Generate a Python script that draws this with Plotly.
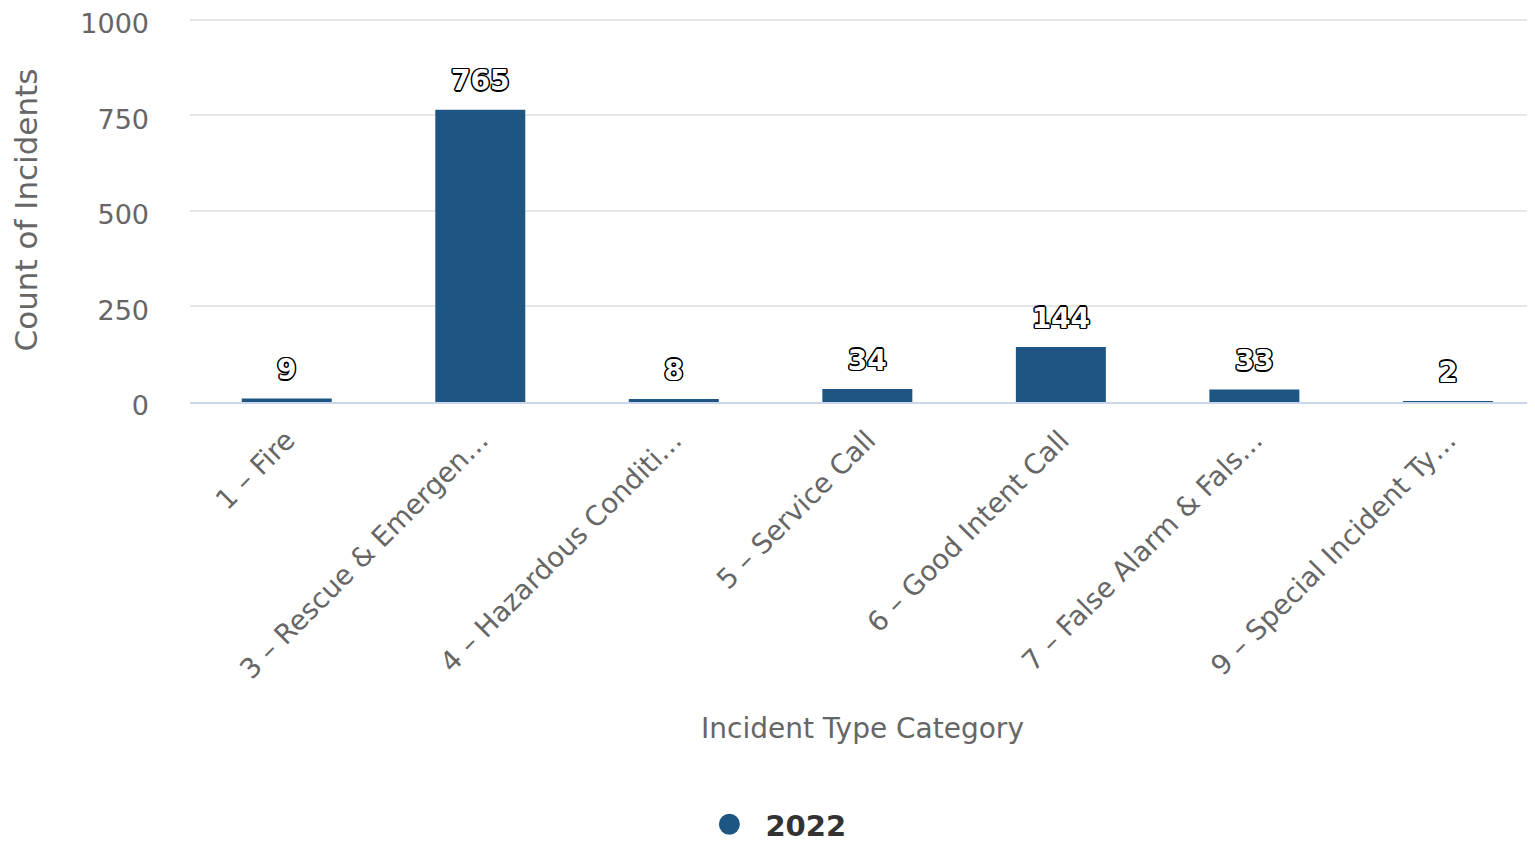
import plotly.graph_objects as go

categories = [
    "1 – Fire",
    "3 – Rescue & Emergen…",
    "4 – Hazardous Conditi…",
    "5 – Service Call",
    "6 – Good Intent Call",
    "7 – False Alarm & Fals…",
    "9 – Special Incident Ty…",
]
counts_2022 = [9, 765, 8, 34, 144, 33, 2]
series_name = "2022"
y_ticks = [0, 250, 500, 750, 1000]

BAR = "#1f5582"
GRAY = "#666666"
FONT = "DejaVu Sans"

outline = ", ".join(f"{dx}px {dy}px 0 #000" for dx, dy in
                    [(-1, -1), (1, -1), (-1, 1), (1, 1), (0, 1.5), (0, -1.5), (1.5, 0), (-1.5, 0)])

fig = go.Figure()
fig.add_trace(go.Bar(
    x=categories, y=counts_2022, name=series_name,
    marker=dict(color=BAR, line=dict(width=0)),
    width=0.465,
    showlegend=False, hoverinfo="x+y",
))
# data labels
fig.add_trace(go.Scatter(
    x=categories, y=counts_2022, mode="markers+text",
    text=[str(v) for v in counts_2022], textposition="top center",
    marker=dict(size=18, opacity=0),
    textfont=dict(family=FONT, size=28, color="#ffffff", weight="bold", shadow=outline),
    cliponaxis=False, showlegend=False, hoverinfo="skip",
))
# legend entry
fig.add_trace(go.Scatter(
    x=[None], y=[None], name=series_name, mode="markers",
    marker=dict(symbol="circle", color=BAR, size=30, line=dict(color=BAR, width=8)),
    showlegend=True,
))

fig.update_layout(
    width=1527, height=835,
    margin=dict(l=182, r=0, t=10, b=441, autoexpand=False),
    paper_bgcolor="white", plot_bgcolor="white",
    font=dict(family=FONT, color=GRAY),
    legend=dict(orientation="h", x=0.433, xanchor="center", y=-1.1, yanchor="middle",
                font=dict(size=29, color="#333333", weight="bold", family=FONT),
                itemsizing="trace", itemwidth=62, bgcolor="rgba(0,0,0,0)"),
)
fig.update_xaxes(
    range=[-0.5, 6.45], tickangle=-45, tickfont=dict(size=27.5, color=GRAY, family=FONT),
    showline=True, linecolor="#ccd6eb", linewidth=2, showgrid=False, ticks="",
    ticklabelstandoff=9, automargin=False,
    title=dict(text="Incident Type Category", font=dict(size=28, color=GRAY, family=FONT), standoff=35),
)
fig.update_yaxes(
    range=[0, 1005], tickvals=y_ticks, tickfont=dict(size=27, color=GRAY, family=FONT),
    showgrid=True, gridcolor="#e6e6e6", gridwidth=1.5, zeroline=False,
    ticklabelstandoff=40, ticklabelshift=4, automargin=False, ticklabeloverflow="allow",
    title=dict(text="Count of Incidents", font=dict(size=31, color=GRAY, family=FONT), standoff=42),
)
fig.write_html("out.html")
